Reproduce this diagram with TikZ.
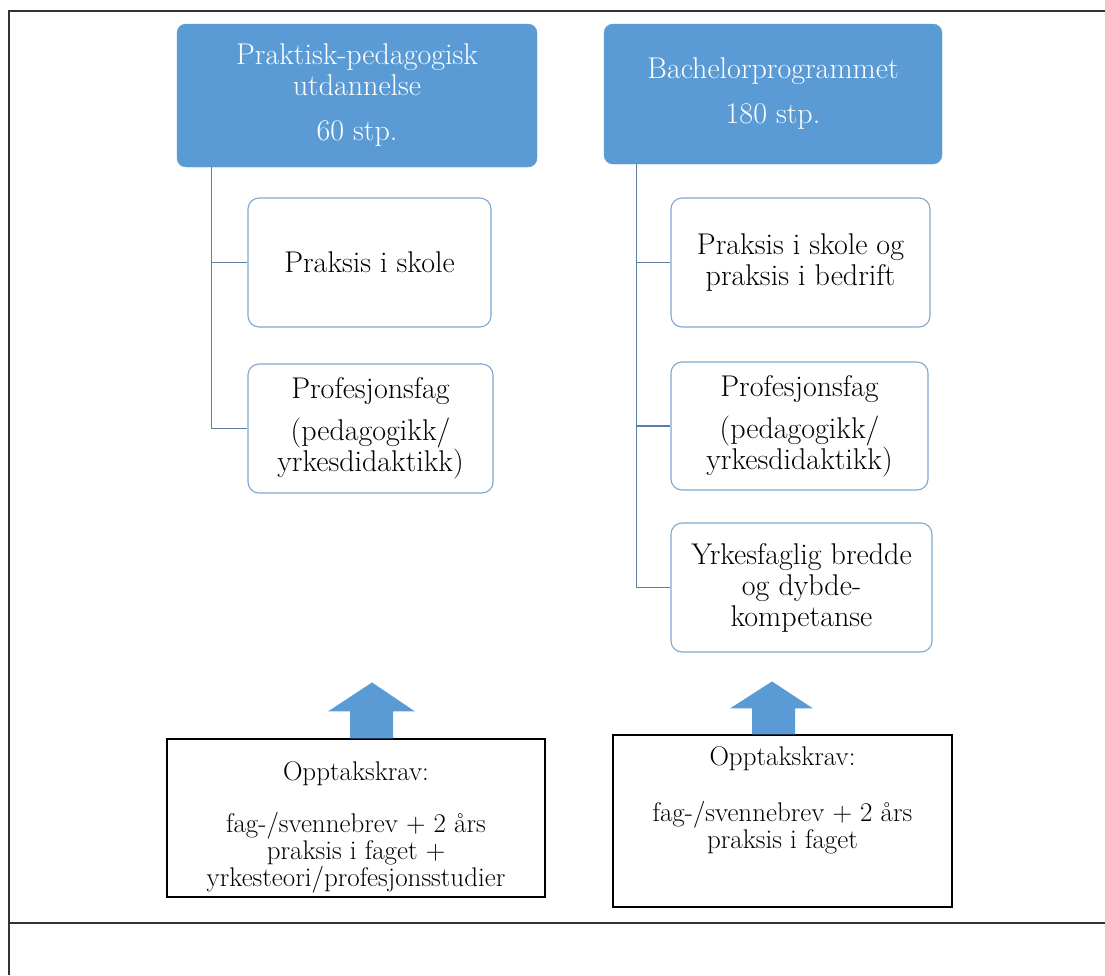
\documentclass[tikz,border=0pt]{standalone}
\usetikzlibrary{calc}
\definecolor{hdrblue}{HTML}{5B9BD5}
\definecolor{boxline}{HTML}{7FA7D3}
\definecolor{treeline}{HTML}{5D7FA6}
\definecolor{framegray}{HTML}{333333}
\begin{document}
\begin{tikzpicture}[x=1pt,y=-1pt,
  hdr/.style={fill=hdrblue,draw=hdrblue,rounded corners=9pt,text=white,align=center,font=\fontsize{30}{31}\selectfont,inner sep=0pt},
  sub/.style={draw=boxline,line width=1.1pt,fill=white,rounded corners=11pt,align=center,font=\fontsize{30}{31}\selectfont,inner sep=0pt},
  req/.style={draw=black,line width=1.1pt,fill=white,inner sep=0pt},
  reqtext/.style={align=center,font=\fontsize{27}{27}\selectfont,inner sep=0pt},
  tree/.style={draw=treeline,line width=1.1pt},
  blockarrow/.style={fill=hdrblue,draw=none}]
\useasboundingbox (0,0) rectangle (1105,975);
\fill[white] (0,0) rectangle (1105,975);
% outer frame
\draw[framegray,line width=2pt] (1105,11) -- (9,11) -- (9,975);
\draw[framegray,line width=2pt] (9,923) -- (1105,923);
% headers
\node[hdr,minimum width=360pt,minimum height=143pt] (ppu) at (357,95.5)
  {Praktisk-pedagogisk\\utdannelse\\[14pt]60 stp.};
\node[hdr,minimum width=338pt,minimum height=140pt] (bach) at (773,94)
  {Bachelorprogrammet\\[14pt]180 stp.};
% left sub boxes
\node[sub,minimum width=243pt,minimum height=129pt] (l1) at (369.5,262.5) {Praksis i skole};
\node[sub,minimum width=245pt,minimum height=129pt] (l2) at (370.5,428.5)
  {Profesjonsfag\\[11pt](pedagogikk/\\yrkesdidaktikk)};
% right sub boxes
\node[sub,minimum width=259pt,minimum height=129pt] (r1) at (800.5,262.5) {Praksis i skole og\\praksis i bedrift};
\node[sub,minimum width=257pt,minimum height=128pt] (r2) at (799.5,426)
  {Profesjonsfag\\[11pt](pedagogikk/\\yrkesdidaktikk)};
\node[sub,minimum width=261pt,minimum height=129pt] (r3) at (801.5,587.5)
  {Yrkesfaglig bredde\\og dybde-\\kompetanse};
% tree lines
\coordinate (lt) at ($(ppu.south west)+(35,0)$);
\draw[tree] (lt) |- (l2.west);
\draw[tree] (lt |- l1.west) -- (l1.west);
\coordinate (rt) at ($(bach.south west)+(33,0)$);
\draw[tree] (rt) |- (r3.west);
\draw[tree] (rt |- r1.west) -- (r1.west);
\draw[tree] (rt |- r2.west) -- (r2.west);
% requirement boxes
\node[req,minimum width=378pt,minimum height=158pt] (lq) at (356,818) {};
\node[reqtext] (lqt) at (356,827)
  {Opptakskrav:\\[25pt]fag-/svennebrev + 2 års\\praksis i faget +\\yrkesteori/profesjonsstudier};
\node[req,minimum width=339pt,minimum height=172pt] (rq) at (782.5,821) {};
\node[reqtext] (rqt) at (782.5,800)
  {Opptakskrav:\\[29pt]fag-/svennebrev + 2 års\\praksis i faget};
% block arrows
\fill[blockarrow] ($(lq.north)+(-6,0)$) -- ++(0,-27) -- ++(-22,0) -- ($(lq.north)+(16,-56)$) -- ($(lq.north)+(59,-27)$) -- ++(-22,0) -- ($(lq.north)+(37,0)$) -- cycle;
\fill[blockarrow] ($(rq.north)+(-30.5,0)$) -- ++(0,-26) -- ++(-22,0) -- ($(rq.north)+(-10.5,-53)$) -- ($(rq.north)+(30.5,-26)$) -- ++(-18,0) -- ($(rq.north)+(12.5,0)$) -- cycle;
\end{tikzpicture}
\end{document}
